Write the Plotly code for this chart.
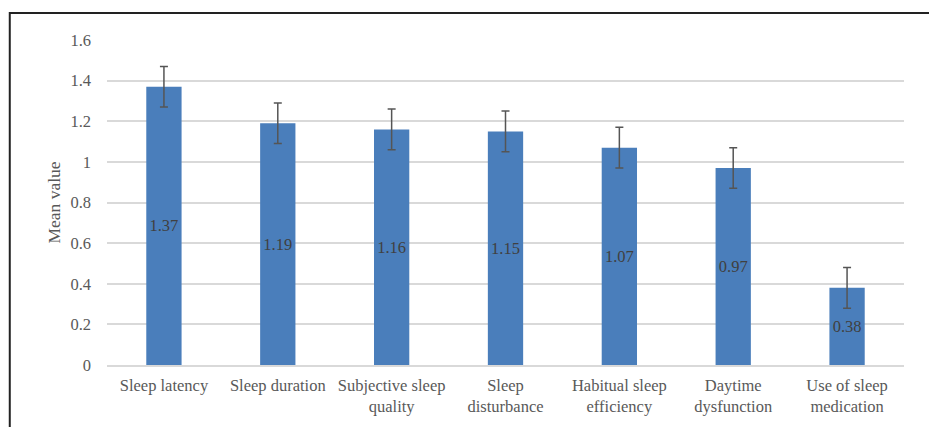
import plotly.graph_objects as go

categories = ["Sleep latency", "Sleep duration", "Subjective sleep<br>quality", "Sleep<br>disturbance",
              "Habitual sleep<br>efficiency", "Daytime<br>dysfunction", "Use of sleep<br>medication"]
means = [1.37, 1.19, 1.16, 1.15, 1.07, 0.97, 0.38]
errors = [0.1, 0.1, 0.1, 0.1, 0.1, 0.1, 0.1]
y_ticks = [0, 0.2, 0.4, 0.6, 0.8, 1, 1.2, 1.4, 1.6]
y_tick_text = ["0", "0.2", "0.4", "0.6", "0.8", "1", "1.2", "1.4", "1.6"]

FONT = "Liberation Serif"

fig = go.Figure(go.Bar(
    x=categories, y=means,
    marker=dict(color="#4a7ebb", line=dict(width=0)),
    width=0.31,
    error_y=dict(type="data", array=errors, color="#555555", thickness=1.5, width=4),
    text=[f"{v:.2f}" for v in means],
    textposition="inside", insidetextanchor="middle",
    textfont=dict(family=FONT, size=16.5, color="#404040"),
    cliponaxis=False,
))

fig.update_layout(
    width=937, height=427,
    margin=dict(l=99, r=41, t=32, b=70),
    plot_bgcolor="white", paper_bgcolor="white",
    showlegend=False,
    font=dict(family=FONT, size=16.5, color="#595959"),
    yaxis=dict(range=[0, 1.6], tickvals=y_ticks, ticktext=y_tick_text,
               showgrid=True, gridcolor="#d9d9d9", gridwidth=1.5, zeroline=False,
               showline=False, ticks="", ticklabelstandoff=15,
               title=dict(text="Mean value", font=dict(family=FONT, size=17.5, color="#595959"), standoff=5)),
    xaxis=dict(showline=True, linecolor="#d9d9d9", linewidth=1.5, ticks="", tickangle=0,
               showgrid=False, ticklabelstandoff=4),
    uniformtext=dict(mode=False),
    shapes=[dict(type="rect", xref="paper", yref="paper", x0=-0.122, x1=1.2, y0=-0.4, y1=1.083,
                 line=dict(color="#222222", width=2), layer="above")],
)

fig.write_html("out.html")
